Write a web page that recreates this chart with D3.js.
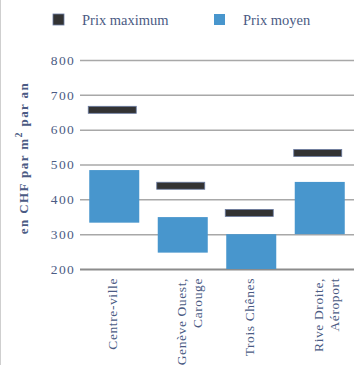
<!DOCTYPE html>
<html>
<head>
<meta charset="utf-8">
<script src="https://cdn.jsdelivr.net/npm/d3@7"></script>
<style>
  body { margin: 0; background: #fff; }
  text { font-family: "Liberation Serif", "DejaVu Serif", serif; fill: #4b5b84; }
</style>
</head>
<body>
<div id="container"></div>
<script>
// Chart data
const categories = [["Centre-ville"], ["Genève Ouest,", "Carouge"], ["Trois Chênes"], ["Rive Droite,", "Aéroport"]];
const moyenLow = [333, 247, 200, 300];
const moyenHigh = [484, 349, 300, 450];
const prixMax = [657, 439, 361, 533];
const yTicks = [200, 300, 400, 500, 600, 700, 800];
const legendLabels = ["Prix maximum", "Prix moyen"];

const W = 358, H = 365;
const svg = d3.select('#container').append('svg')
  .attr('width', W).attr('height', H);

// left border line
svg.append('line')
  .attr('x1', 0.5).attr('x2', 0.5).attr('y1', 0).attr('y2', H)
  .attr('stroke', '#cfcfcf');

const mLeft = 80, mRight = 354, mTop = 60, mBottom = 269;
const width = mRight - mLeft, height = mBottom - mTop;

const chart = svg.append('g').attr('transform', `translate(${mLeft}, ${mTop})`);

const names = categories.map(c => c.join(' '));
const xScale = d3.scaleBand()
  .domain(names)
  .range([0, width])
  .paddingInner(0.27)
  .paddingOuter(0.135);

const yScale = d3.scaleLinear()
  .domain([200, 800])
  .range([height, 0]);

// Grid lines + tick labels
const yAxis = chart.append('g')
  .call(d3.axisLeft(yScale)
    .tickValues(yTicks)
    .tickSize(-width)
    .tickPadding(5)
    .tickFormat(d3.format('d')));
yAxis.select('.domain').remove();
yAxis.selectAll('line')
  .attr('stroke', '#a8a8a8')
  .attr('stroke-width', 1.5);
yAxis.selectAll('line').filter(d => d === 200)
  .attr('stroke', '#8c8c8c')
  .attr('stroke-width', 2.2);
yAxis.selectAll('text')
  .attr('fill', '#4b5b84')
  .style('font-family', '"Liberation Serif", serif')
  .style('font-size', '13.5px')
  .style('letter-spacing', '1.3px');

const data = names.map((n, i) => ({ name: n, lines: categories[i], low: moyenLow[i], high: moyenHigh[i], max: prixMax[i] }));

// Prix moyen bars
chart.selectAll('.moyen')
  .data(data)
  .enter().append('rect')
  .attr('class', 'moyen')
  .attr('x', d => xScale(d.name))
  .attr('y', d => yScale(d.high))
  .attr('width', xScale.bandwidth())
  .attr('height', d => yScale(d.low) - yScale(d.high))
  .attr('fill', '#4896cd');

// Prix maximum markers
chart.selectAll('.max')
  .data(data)
  .enter().append('rect')
  .attr('class', 'max')
  .attr('x', d => xScale(d.name) - 1)
  .attr('y', d => yScale(d.max) - 3.5)
  .attr('width', xScale.bandwidth() - 2)
  .attr('height', 7)
  .attr('fill', '#333333')
  .attr('stroke', '#6a7aa0')
  .attr('stroke-width', 0.8);

// X labels, rotated
const xl = chart.selectAll('.xlabel')
  .data(data)
  .enter().append('g')
  .attr('class', 'xlabel')
  .attr('transform', d => `translate(${xScale(d.name) + xScale.bandwidth() / 2}, ${height + 9})`);
xl.each(function (d) {
  const g = d3.select(this);
  d.lines.forEach((line, j) => {
    g.append('text')
      .attr('transform', `translate(${3 + j * 16}, 0) rotate(-90)`)
      .attr('text-anchor', 'end')
      .style('font-size', '13.5px')
      .style('letter-spacing', '0.6px')
      .text(line);
  });
});

// Y axis title
const yt = svg.append('text')
  .attr('transform', `translate(28, 158) rotate(-90)`)
  .attr('text-anchor', 'middle')
  .style('font-size', '13px')
  .style('font-weight', 'bold')
  .style('letter-spacing', '1.4px');
yt.append('tspan').text('en CHF par m');
yt.append('tspan').attr('dy', -6).style('font-size', '10px').text('2');
yt.append('tspan').attr('dy', 6).text(' par an');

// Legend
const legend = svg.append('g');
const legendColors = ['#333333', '#4896cd'];
const legendX = [53, 214];
legendLabels.forEach((lab, i) => {
  legend.append('rect')
    .attr('x', legendX[i]).attr('y', 14)
    .attr('width', 11).attr('height', 11)
    .attr('fill', legendColors[i])
    .attr('stroke', i === 0 ? '#6a7aa0' : 'none')
    .attr('stroke-width', 0.8);
  legend.append('text')
    .attr('x', legendX[i] + 29).attr('y', 25)
    .style('font-size', '14.5px')
    .text(lab);
});
</script>
</body>
</html>
